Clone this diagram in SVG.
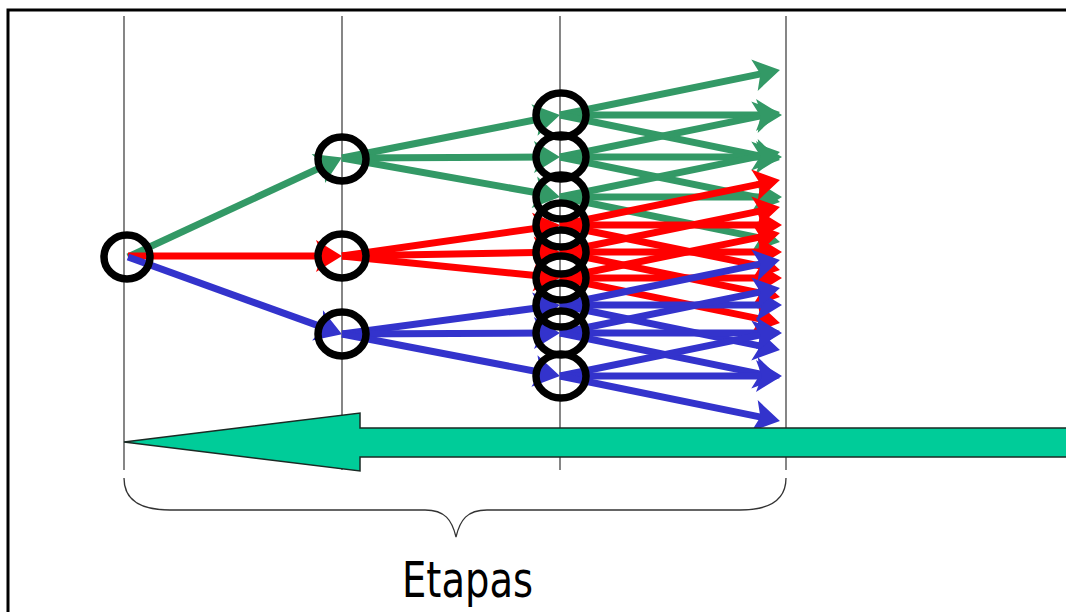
<svg xmlns="http://www.w3.org/2000/svg" width="1066" height="612" viewBox="0 0 1066 612">
<defs>
<style>
.vl{stroke:#444;stroke-width:1.3;fill:none}
.g{stroke:#339966;stroke-width:7;fill:none}
.r{stroke:#FF0000;stroke-width:7;fill:none}
.b{stroke:#3333CC;stroke-width:7;fill:none}
.g{marker-end:url(#ag)}
.r{marker-end:url(#ar)}
.b{marker-end:url(#ab)}
.node{fill:none;stroke:#000;stroke-width:7.5}
</style>
<marker id="ag" markerUnits="userSpaceOnUse" viewBox="-15 -17 30 34" refX="0" refY="0" markerWidth="30" markerHeight="34" orient="auto" overflow="visible"><path d="M12,0 L-14,-16 L-8,0 L-14,16 Z" fill="#339966"/></marker>
<marker id="ar" markerUnits="userSpaceOnUse" viewBox="-15 -17 30 34" refX="0" refY="0" markerWidth="30" markerHeight="34" orient="auto" overflow="visible"><path d="M12,0 L-14,-16 L-8,0 L-14,16 Z" fill="#FF0000"/></marker>
<marker id="ab" markerUnits="userSpaceOnUse" viewBox="-15 -17 30 34" refX="0" refY="0" markerWidth="30" markerHeight="34" orient="auto" overflow="visible"><path d="M12,0 L-14,-16 L-8,0 L-14,16 Z" fill="#3333CC"/></marker>
</defs>
<rect x="0" y="0" width="1066" height="612" fill="#fff"/>
<path d="M8,612 V10 H1066" fill="none" stroke="#000" stroke-width="3"/>
<g id="stage-lines">
<line class="vl" x1="124" y1="16" x2="124" y2="470"/>
<line class="vl" x1="342" y1="16" x2="342" y2="470"/>
<line class="vl" x1="560" y1="16" x2="560" y2="470"/>
<line class="vl" x1="786" y1="16" x2="786" y2="470"/>
</g>
<g id="connectors">
<g id="green">
<line class="g" x1="128" y1="257" x2="331.1" y2="162.6"/>
<line class="g" x1="342" y1="158" x2="548.2" y2="117.3"/>
<line class="g" x1="342" y1="158" x2="548" y2="157"/>
<line class="g" x1="342" y1="158" x2="548.2" y2="194.8"/>
<line class="g" x1="560" y1="115" x2="768.2" y2="72.4"/>
<line class="g" x1="560" y1="115" x2="770" y2="115"/>
<line class="g" x1="560" y1="115" x2="768.2" y2="157.6"/>
<line class="g" x1="560" y1="157" x2="768.2" y2="114.4"/>
<line class="g" x1="560" y1="157" x2="770" y2="157"/>
<line class="g" x1="560" y1="157" x2="768.2" y2="199.6"/>
<line class="g" x1="560" y1="197" x2="768.2" y2="154.4"/>
<line class="g" x1="560" y1="197" x2="770" y2="197"/>
<line class="g" x1="560" y1="197" x2="768.2" y2="239.6"/>
</g>
<g id="red">
<line class="r" x1="128" y1="256" x2="330" y2="256"/>
<line class="r" x1="342" y1="256" x2="548.1" y2="226.6"/>
<line class="r" x1="342" y1="256" x2="548" y2="252.2"/>
<line class="r" x1="342" y1="256" x2="548.1" y2="276.8"/>
<line class="r" x1="560" y1="225" x2="768.2" y2="182.4"/>
<line class="r" x1="560" y1="225" x2="770" y2="225"/>
<line class="r" x1="560" y1="225" x2="768.2" y2="267.6"/>
<line class="r" x1="560" y1="252" x2="768.2" y2="209.4"/>
<line class="r" x1="560" y1="252" x2="770" y2="252"/>
<line class="r" x1="560" y1="252" x2="768.2" y2="294.6"/>
<line class="r" x1="560" y1="278" x2="768.2" y2="235.4"/>
<line class="r" x1="560" y1="278" x2="770" y2="278"/>
<line class="r" x1="560" y1="278" x2="768.2" y2="320.6"/>
</g>
<g id="blue">
<line class="b" x1="128" y1="257" x2="330.7" y2="330.1"/>
<line class="b" x1="342" y1="334" x2="548.1" y2="306.5"/>
<line class="b" x1="342" y1="334" x2="548" y2="333"/>
<line class="b" x1="342" y1="334" x2="548.2" y2="373.7"/>
<line class="b" x1="560" y1="305" x2="768.2" y2="262.4"/>
<line class="b" x1="560" y1="305" x2="770" y2="305"/>
<line class="b" x1="560" y1="305" x2="768.2" y2="347.6"/>
<line class="b" x1="560" y1="333" x2="768.2" y2="290.4"/>
<line class="b" x1="560" y1="333" x2="770" y2="333"/>
<line class="b" x1="560" y1="333" x2="768.2" y2="375.6"/>
<line class="b" x1="560" y1="376" x2="768.2" y2="333.4"/>
<line class="b" x1="560" y1="376" x2="770" y2="376"/>
<line class="b" x1="560" y1="376" x2="768.2" y2="418.6"/>
</g>
</g>
<g id="n0"><ellipse class="node" cx="127" cy="257" rx="23" ry="22"/></g>
<g id="n1"><ellipse class="node" cx="342" cy="159" rx="24" ry="22"/></g>
<g id="n2"><ellipse class="node" cx="342" cy="256" rx="24" ry="22"/></g>
<g id="n3"><ellipse class="node" cx="342" cy="334" rx="24" ry="22"/></g>
<g id="n4"><ellipse class="node" cx="561" cy="115" rx="25" ry="22"/></g>
<g id="n5"><ellipse class="node" cx="561" cy="157" rx="25" ry="22"/></g>
<g id="n6"><ellipse class="node" cx="561" cy="197" rx="25" ry="22"/></g>
<g id="n7"><ellipse class="node" cx="561" cy="225" rx="25" ry="22"/></g>
<g id="n8"><ellipse class="node" cx="561" cy="252" rx="25" ry="22"/></g>
<g id="n9"><ellipse class="node" cx="561" cy="278" rx="25" ry="22"/></g>
<g id="n10"><ellipse class="node" cx="561" cy="305" rx="25" ry="22"/></g>
<g id="n11"><ellipse class="node" cx="561" cy="333" rx="25" ry="22"/></g>
<g id="n12"><ellipse class="node" cx="561" cy="376" rx="25" ry="22"/></g>
<g id="big-arrow"><path d="M124,442 L360,413 L360,428 L1070,428 L1070,457 L360,457 L360,471 Z" fill="#00CC99" stroke="#1a2a24" stroke-width="1.5" stroke-linejoin="miter"/></g>
<g id="brace"><path d="M124,478 C124,500 140,510 170,510 L425,510 C445,510 452,520 456,537 C460,520 467,510 487,510 L740,510 C770,510 786,500 786,478" fill="none" stroke="#333" stroke-width="1.3"/></g>
<text x="402" y="597" font-family="DejaVu Sans, sans-serif" font-size="50" textLength="131" lengthAdjust="spacingAndGlyphs" fill="#000">Etapas</text>
</svg>
